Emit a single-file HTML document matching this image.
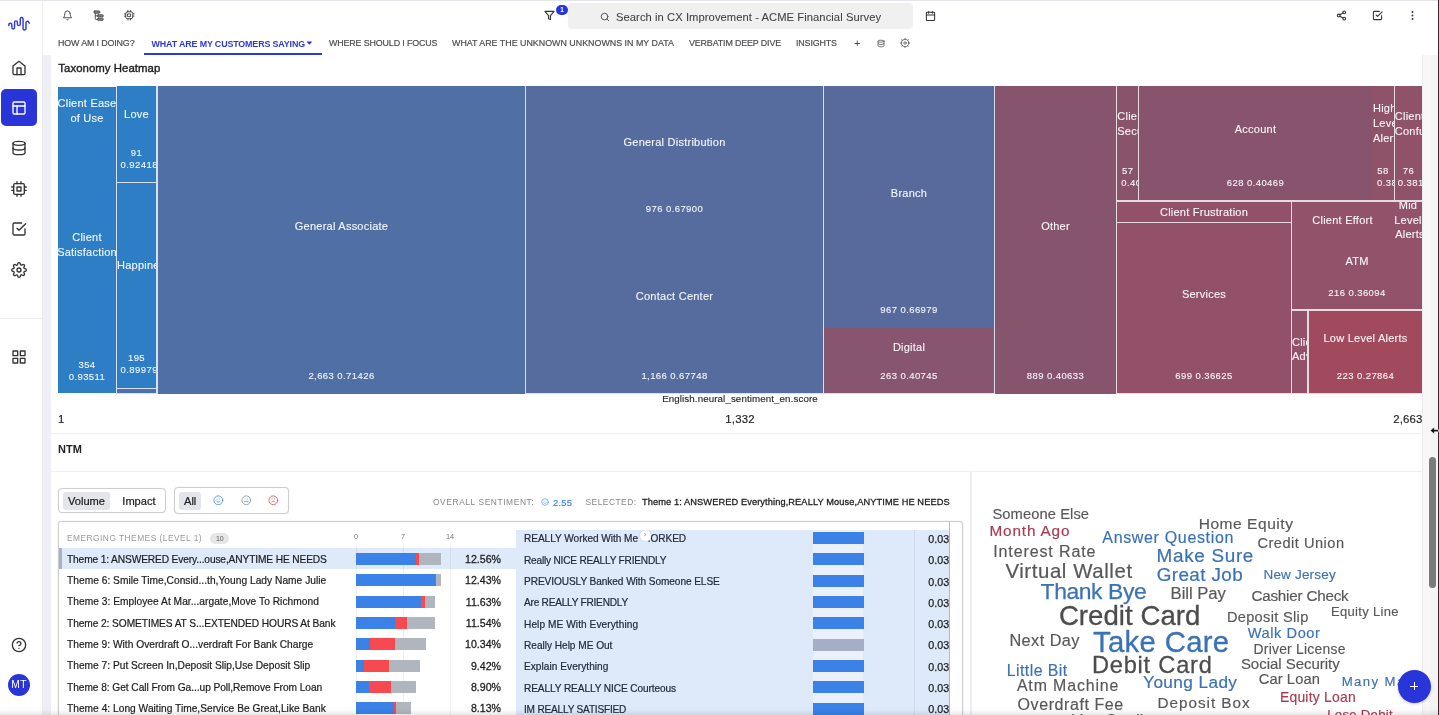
<!DOCTYPE html>
<html lang="en">
<head>
<meta charset="utf-8">
<title>CX Improvement - ACME Financial Survey</title>
<style>
*{box-sizing:border-box;margin:0;padding:0}
html,body{width:1439px;height:715px;overflow:hidden;background:#fff;font-family:"Liberation Sans",sans-serif;color:#222}
#app{position:relative;width:1439px;height:715px;overflow:hidden;background:#fff;will-change:transform}
.abs{position:absolute}
svg.ic{position:absolute;fill:none;stroke:#333;stroke-width:2;stroke-linecap:round;stroke-linejoin:round}
.t{position:absolute;white-space:nowrap;line-height:1}
/* top line */
#topline{left:0;top:0;width:1439px;height:1.3px;background:#e2e6ec}
/* sidebar */
#side{left:0;top:2px;width:43px;height:713px;background:#fff;border-right:1px solid #ececf0}
#navact{left:1px;top:89px;width:36px;height:37px;background:#2a35d9;border-radius:5px}
#sdiv{left:0;top:318px;width:43px;height:1px;background:#ececec}
#avatar{left:8px;top:674px;width:22px;height:22px;border-radius:50%;background:#2a35d9;color:#fff;font-size:10.3px;text-align:center;line-height:22.5px;letter-spacing:.25px}
/* page bg strips */
#lstrip{left:43px;top:54.5px;width:8px;height:661px;background:#eef0f6}
#rstrip{left:1422px;top:54.5px;width:17px;height:661px;background:#f7f7f8;border-left:1px solid #ececee}
#rstrip2{left:1430px;top:54.5px;width:8px;height:661px;background:#f4f4f5}
#thumb{left:1429px;top:457px;width:7px;height:131px;border-radius:4px;background:#7b7b7b}
/* header */
#search{left:568px;top:3px;width:345px;height:26px;background:#f0f0f1;border-radius:4px}
.tab{position:absolute;top:38.6px;font-size:8.9px;letter-spacing:-.13px;color:#4c4c50;-webkit-text-stroke:.18px #4c4c50;white-space:nowrap;line-height:1}
#tabline{left:144px;top:52.8px;width:178px;height:2.2px;background:#2b3bd1}
#badge{left:556px;top:4.5px;width:12px;height:10px;border-radius:5px;background:#2a35d9;color:#fff;font-size:6.5px;font-weight:bold;text-align:center;line-height:10px}
</style>
</head>
<body>
<div id="app">
<div class="abs" id="topline"></div>

<!-- SIDEBAR -->
<div class="abs" id="side"></div>
<svg class="ic" style="left:0;top:0;width:40px;height:40px;stroke:#2f3cd8;stroke-width:1.45" viewBox="0 0 40 40"><path d="M8.8 25.4V24.8a1.525 1.525 0 0 1 3.05 0V27.6a1.35 1.35 0 0 0 2.7 0V22.3a1.425 1.425 0 0 1 2.85 0V24.2a1.425 1.425 0 0 0 2.85 0V18.9a1.4 1.4 0 0 1 2.8 0V28.55a1.475 1.475 0 0 0 2.95 0V22.7a1.5 1.5 0 0 1 2.6 -1l.7 1.5"/></svg>
<svg class="ic" style="left:11px;top:60px;width:16px;height:16px" viewBox="0 0 24 24"><path d="M3 9l9-7 9 7v11a2 2 0 0 1-2 2H5a2 2 0 0 1-2-2z"/><polyline points="9 22 9 12 15 12 15 22"/></svg>
<div class="abs" id="navact"></div>
<svg class="ic" style="left:11px;top:100px;width:16px;height:16px;stroke:#fff" viewBox="0 0 24 24"><rect x="3" y="3" width="18" height="18" rx="2" ry="2"/><line x1="3" y1="9" x2="21" y2="9"/><line x1="9" y1="21" x2="9" y2="9"/></svg>
<svg class="ic" style="left:11px;top:140px;width:16px;height:16px" viewBox="0 0 24 24"><ellipse cx="12" cy="5" rx="9" ry="3"/><path d="M21 12c0 1.66-4 3-9 3s-9-1.34-9-3"/><path d="M3 5v14c0 1.66 4 3 9 3s9-1.34 9-3V5"/></svg>
<svg class="ic" style="left:11px;top:181px;width:16px;height:16px" viewBox="0 0 24 24"><rect x="4" y="4" width="16" height="16" rx="2" ry="2"/><rect x="9" y="9" width="6" height="6"/><line x1="9" y1="1" x2="9" y2="4"/><line x1="15" y1="1" x2="15" y2="4"/><line x1="9" y1="20" x2="9" y2="23"/><line x1="15" y1="20" x2="15" y2="23"/><line x1="20" y1="9" x2="23" y2="9"/><line x1="20" y1="14" x2="23" y2="14"/><line x1="1" y1="9" x2="4" y2="9"/><line x1="1" y1="14" x2="4" y2="14"/></svg>
<svg class="ic" style="left:11px;top:221.4px;width:16px;height:16px" viewBox="0 0 24 24"><polyline points="9 11 12 14 22 4"/><path d="M21 12v7a2 2 0 0 1-2 2H5a2 2 0 0 1-2-2V5a2 2 0 0 1 2-2h11"/></svg>
<svg class="ic" style="left:11px;top:262px;width:16px;height:16px" viewBox="0 0 24 24"><circle cx="12" cy="12" r="3"/><path d="M19.4 15a1.65 1.65 0 0 0 .33 1.82l.06.06a2 2 0 0 1 0 2.83 2 2 0 0 1-2.83 0l-.06-.06a1.65 1.65 0 0 0-1.82-.33 1.65 1.65 0 0 0-1 1.51V21a2 2 0 0 1-2 2 2 2 0 0 1-2-2v-.09A1.65 1.65 0 0 0 9 19.4a1.65 1.65 0 0 0-1.82.33l-.06.06a2 2 0 0 1-2.83 0 2 2 0 0 1 0-2.83l.06-.06a1.65 1.65 0 0 0 .33-1.82 1.65 1.65 0 0 0-1.51-1H3a2 2 0 0 1-2-2 2 2 0 0 1 2-2h.09A1.65 1.65 0 0 0 4.6 9a1.65 1.65 0 0 0-.33-1.82l-.06-.06a2 2 0 0 1 0-2.83 2 2 0 0 1 2.83 0l.06.06a1.65 1.65 0 0 0 1.82.33H9a1.65 1.65 0 0 0 1-1.51V3a2 2 0 0 1 2-2 2 2 0 0 1 2 2v.09a1.65 1.65 0 0 0 1 1.51 1.65 1.65 0 0 0 1.82-.33l.06-.06a2 2 0 0 1 2.83 0 2 2 0 0 1 0 2.83l-.06.06a1.65 1.65 0 0 0-.33 1.82V9a1.65 1.65 0 0 0 1.51 1H21a2 2 0 0 1 2 2 2 2 0 0 1-2 2h-.09a1.65 1.65 0 0 0-1.51 1z"/></svg>
<div class="abs" id="sdiv"></div>
<svg class="ic" style="left:11px;top:349px;width:16px;height:16px" viewBox="0 0 24 24"><rect x="3" y="3" width="7" height="7"/><rect x="14" y="3" width="7" height="7"/><rect x="14" y="14" width="7" height="7"/><rect x="3" y="14" width="7" height="7"/></svg>
<svg class="ic" style="left:11px;top:637px;width:16px;height:16px" viewBox="0 0 24 24"><circle cx="12" cy="12" r="10"/><path d="M9.09 9a3 3 0 0 1 5.83 1c0 2-3 3-3 3"/><line x1="12" y1="17" x2="12.01" y2="17"/></svg>
<div class="abs" id="avatar">MT</div>

<!-- HEADER -->
<svg class="ic" style="left:62px;top:9.9px;width:11px;height:11px;stroke-width:2.1;stroke:#444" viewBox="0 0 24 24"><path d="M18 8A6 6 0 0 0 6 8c0 7-3 9-3 9h18s-3-2-3-9"/><path d="M13.73 21a2 2 0 0 1-3.46 0"/></svg>
<svg class="ic" style="left:93px;top:10.2px;width:11px;height:11px;stroke-width:2;stroke:#4a4a4a" viewBox="0 0 24 24"><rect x="2" y="2" width="13" height="5" rx="2" fill="#8a8a8a"/><rect x="9.5" y="10.5" width="13" height="4.6" rx="2" fill="#8a8a8a"/><rect x="9.5" y="18" width="13" height="4.6" rx="2" fill="#8a8a8a"/><path d="M5 7.5v11.5q0 1.5 1.5 1.5h3M5 12.8h4.5"/></svg>
<svg class="ic" style="left:124.2px;top:10.4px;width:10.5px;height:10.5px;stroke-width:2.1;stroke:#444" viewBox="0 0 24 24"><rect x="4" y="4" width="16" height="16" rx="4" ry="4"/><rect x="9" y="9" width="6" height="6"/><line x1="9" y1="1" x2="9" y2="4"/><line x1="15" y1="1" x2="15" y2="4"/><line x1="9" y1="20" x2="9" y2="23"/><line x1="15" y1="20" x2="15" y2="23"/><line x1="20" y1="9" x2="23" y2="9"/><line x1="20" y1="14" x2="23" y2="14"/><line x1="1" y1="9" x2="4" y2="9"/><line x1="1" y1="14" x2="4" y2="14"/></svg>
<svg class="ic" style="left:544px;top:10px;width:11px;height:11px;stroke-width:2.4" viewBox="0 0 24 24"><polygon points="22 3 2 3 10 12.46 10 19 14 21 14 12.46 22 3"/></svg>
<div class="abs" id="badge">1</div>
<div class="abs" id="search"></div>
<svg class="ic" style="left:600px;top:11.5px;width:10px;height:10px;stroke:#555;stroke-width:2.4" viewBox="0 0 24 24"><circle cx="11" cy="11" r="8"/><line x1="21" y1="21" x2="16.65" y2="16.65"/></svg>
<div class="t" style="left:616px;top:12px;font-size:11.2px;color:#434345;letter-spacing:.07px;-webkit-text-stroke:.08px #434345">Search in CX Improvement - ACME Financial Survey</div>
<svg class="ic" style="left:925px;top:9.7px;width:11px;height:12px;stroke-width:2.3" viewBox="0 0 24 24"><rect x="3" y="4" width="18" height="18" rx="2" ry="2"/><line x1="16" y1="2" x2="16" y2="6"/><line x1="8" y1="2" x2="8" y2="6"/><line x1="3" y1="10" x2="21" y2="10"/></svg>
<svg class="ic" style="left:1336.2px;top:9.7px;width:11px;height:11px;stroke-width:2.3" viewBox="0 0 24 24"><circle cx="18" cy="5" r="3"/><circle cx="6" cy="12" r="3"/><circle cx="18" cy="19" r="3"/><line x1="8.59" y1="13.51" x2="15.42" y2="17.49"/><line x1="15.41" y1="6.51" x2="8.59" y2="10.49"/></svg>
<svg class="ic" style="left:1372px;top:9.7px;width:11px;height:11px;stroke-width:2.3" viewBox="0 0 24 24"><polyline points="9 11 12 14 22 4"/><path d="M21 12v7a2 2 0 0 1-2 2H5a2 2 0 0 1-2-2V5a2 2 0 0 1 2-2h11"/></svg>
<svg class="abs" style="left:1407.3px;top:9.7px;width:11px;height:11px" viewBox="0 0 24 24"><circle cx="12" cy="12" r="2.1" fill="#3a3a3c"/><circle cx="12" cy="4.4" r="2.1" fill="#3a3a3c"/><circle cx="12" cy="19.6" r="2.1" fill="#3a3a3c"/></svg>

<div class="tab" style="left:58px">HOW AM I DOING?</div>
<div class="tab" style="left:151.5px;top:39.7px;color:#2b3bd1;font-weight:bold;letter-spacing:-.13px;-webkit-text-stroke:0">WHAT ARE MY CUSTOMERS SAYING</div>
<svg class="abs" style="left:304px;top:38px;width:12px;height:10px" viewBox="304 38 12 10"><path d="M307.1 41.5h4.6q.5 0 .2.4l-2.2 2.5q-.3.3-.6 0l-2.2-2.5q-.3-.4.2-.4z" fill="#2b3bd1"/></svg>
<div class="abs" id="tabline"></div>
<div class="tab" style="left:329px">WHERE SHOULD I FOCUS</div>
<div class="tab" style="left:452px;letter-spacing:0px">WHAT ARE THE UNKNOWN UNKNOWNS IN MY DATA</div>
<div class="tab" style="left:689px">VERBATIM DEEP DIVE</div>
<div class="tab" style="left:796px">INSIGHTS</div>
<div class="tab" style="left:854px;top:37.5px;font-size:11px;color:#444;-webkit-text-stroke:0">+</div>
<svg class="ic" style="left:877px;top:39px;width:8px;height:9px;stroke:#555;stroke-width:2.4" viewBox="0 0 24 24"><ellipse cx="12" cy="5" rx="9" ry="3"/><path d="M21 12c0 1.66-4 3-9 3s-9-1.34-9-3"/><path d="M3 5v14c0 1.66 4 3 9 3s9-1.34 9-3V5"/></svg>
<svg class="ic" style="left:900px;top:38.2px;width:10px;height:10px;stroke:#5a5a5e;stroke-width:1.9" viewBox="0 0 24 24"><circle cx="12" cy="12" r="3"/><circle cx="12" cy="12" r="9"/><path d="M12 1v3M12 20v3M1 12h3M20 12h3M4.2 4.2l2.1 2.1M17.7 17.7l2.1 2.1M4.2 19.8l2.1-2.1M17.7 6.3l2.1-2.1"/></svg>

<!-- PAGE STRIPS -->
<div class="abs" id="lstrip"></div>
<div class="abs" id="rstrip"></div>
<div class="abs" id="rstrip2"></div>
<div class="abs" id="thumb"></div>

<style>
.cell{position:absolute;overflow:hidden;color:#fff;font-size:11px;text-align:center}
.cell span{position:absolute;left:-20px;right:-20px;text-align:center;white-space:nowrap;line-height:1;letter-spacing:.24px;color:rgba(255,255,255,.93);-webkit-text-stroke:.13px rgba(255,255,255,.9)}
.cell span.v{font-size:9.5px;letter-spacing:.42px;color:rgba(255,255,255,.9)}
.hl{position:absolute;height:1px;background:#f0f0f3}
</style>
<div class="t" style="left:58.3px;top:62.5px;font-size:11.4px;color:#1f1f22;letter-spacing:.05px;-webkit-text-stroke:.4px #1f1f22">Taxonomy Heatmap</div>
<div class="abs" id="tm" style="left:0;top:0;width:1422px;height:400px;overflow:hidden">
<!-- white backing for gaps -->
<div class="abs" style="left:116px;top:86px;width:879px;height:308px;background:#d9dfec"></div><div class="abs" style="left:995px;top:86px;width:427px;height:308px;background:#e6dbe1"></div>
<div class="cell" style="left:58px;top:87px;width:58px;height:306px;background:#2e7ec5"><span style="top:11px">Client Ease</span><span style="top:26px">of Use</span><span style="top:145px">Client</span><span style="top:160px">Satisfaction</span><span class="v" style="top:273px">354</span><span class="v" style="top:285px">0.93511</span></div>
<div class="cell" style="left:117px;top:86px;width:39px;height:96px;background:#2e7ec5"><span style="top:23px">Love</span><span class="v" style="top:62px">91</span><span class="v" style="top:74px;left:3.6px;text-align:left">0.92418</span></div>
<div class="cell" style="left:117px;top:183px;width:39px;height:205px;background:#2e7ec5"><span style="top:77px;left:0;text-align:left">Happiness</span><span class="v" style="top:170px">195</span><span class="v" style="top:182px;left:3.6px;text-align:left">0.89979</span></div>
<div class="cell" style="left:117px;top:389px;width:39px;height:4px;background:#4c72ae"></div>
<div class="cell" style="left:158px;top:86px;width:367px;height:308px;background:#4f6fa5"><span style="top:135px">General Associate</span><span class="v" style="top:285px">2,663 0.71426</span></div>
<div class="cell" style="left:526px;top:86px;width:297px;height:307px;background:#566c9f"><span style="top:51px">General Distribution</span><span class="v" style="top:117.5px">976 0.67900</span><span style="top:205px">Contact Center</span><span class="v" style="top:285px">1,166 0.67748</span></div>
<div class="cell" style="left:824px;top:86px;width:170px;height:242px;background:#586a9c"><span style="top:102px">Branch</span><span class="v" style="top:218.8px">967 0.66979</span></div>
<div class="cell" style="left:824px;top:328px;width:170px;height:65px;background:#87556f"><span style="top:14px">Digital</span><span class="v" style="top:43px">263 0.40745</span></div>
<div class="cell" style="left:995px;top:86px;width:121px;height:308px;background:#87546e"><span style="top:135px">Other</span><span class="v" style="top:285px">889 0.40633</span></div>
<div class="cell" style="left:1117.3px;top:86px;width:20.9px;height:114px;background:#89536c"><span style="top:25px;left:0;text-align:left">Client</span><span style="top:40px;left:0;text-align:left">Security</span><span class="v" style="top:80px">57</span><span class="v" style="top:92px;left:4px;text-align:left">0.40</span></div>
<div class="cell" style="left:1139px;top:86px;width:233px;height:114px;background:#87536d"><span style="top:38px">Account</span><span class="v" style="top:92px">628 0.40469</span></div>
<div class="cell" style="left:1372px;top:86px;width:21.9px;height:114px;background:#8e5269"><span style="top:17px;left:1px;text-align:left">High</span><span style="top:32px;left:1px;text-align:left">Level</span><span style="top:47px;left:1px;text-align:left">Alerts</span><span class="v" style="top:80px">58</span><span class="v" style="top:92px;left:5px;text-align:left">0.38</span></div>
<div class="cell" style="left:1394.8px;top:86px;width:27.2px;height:114px;background:#905268"><span style="top:25px;left:0;text-align:left">Client</span><span style="top:40px;left:0;text-align:left">Confusion</span><span class="v" style="top:80px">76</span><span class="v" style="top:92px;left:3px;text-align:left">0.38107</span></div>
<div class="cell" style="left:1117px;top:201.5px;width:174px;height:20.6px;background:#935169"><span style="top:5.5px">Client Frustration</span></div>
<div class="cell" style="left:1117px;top:223.3px;width:174px;height:169.7px;background:#925169"><span style="top:66px">Services</span><span class="v" style="top:147.7px">699 0.36625</span></div>
<div class="cell" style="left:1292px;top:201.5px;width:130px;height:107.8px;background:#91526a"><span style="top:13.8px;left:0;right:auto;width:101px">Client Effort</span><span style="top:-1.7px;left:101px;right:auto;width:30px">Mid</span><span style="top:13px;left:101px;right:auto;width:30px">Level</span><span style="top:27.8px;left:101px;right:auto;width:34px">Alerts</span><span style="top:54.7px">ATM</span><span class="v" style="top:86.1px">216 0.36094</span></div>
<div class="cell" style="left:1292px;top:311px;width:15px;height:82px;background:#935169"><span style="top:26px;left:0;text-align:left">Client</span><span style="top:40px;left:0;text-align:left">Advocacy</span></div>
<div class="cell" style="left:1309px;top:311px;width:113px;height:82px;background:#a24a5d"><span style="top:22px">Low Level Alerts</span><span class="v" style="top:60px">223 0.27864</span></div>
</div>
<div class="t" style="left:540px;width:400px;text-align:center;top:394px;font-size:9.75px;letter-spacing:.1px;color:#2a2a2c;-webkit-text-stroke:.15px #2a2a2c">English.neural_sentiment_en.score</div>
<div class="t" style="left:58px;top:413.6px;font-size:11.4px;color:#222;-webkit-text-stroke:.15px #222">1</div>
<div class="t" style="left:640px;width:200px;text-align:center;top:413.6px;font-size:11.4px;letter-spacing:.15px;color:#222;-webkit-text-stroke:.15px #222">1,332</div>
<div class="t" style="left:1322.5px;width:100px;text-align:right;top:413.6px;font-size:11.4px;letter-spacing:.15px;color:#222;-webkit-text-stroke:.15px #222">2,663</div>
<div class="hl" style="left:51px;top:433px;width:1371px"></div>
<div class="t" style="left:58px;top:444px;font-size:11px;font-weight:bold;color:#222">NTM</div>
<div class="hl" style="left:51px;top:471px;width:1371px"></div>
<div class="abs" style="left:970.4px;top:471px;width:1.4px;height:244px;background:#eeeef2"></div>

<!--NTM0-->
<style>
.tg{position:absolute;top:488px;height:25px;border:1px solid #cdcdd2;border-radius:4px;background:#fff;box-shadow:0 0 1px rgba(0,0,0,.12)}
.tgs{position:absolute;top:491.5px;height:18px;border-radius:3px;background:#e4e5ea}
.r{position:absolute;left:67px;font-size:10.2px;color:#1d1d1f;white-space:nowrap;line-height:1;letter-spacing:-.03px;-webkit-text-stroke:.2px #1d1d1f}
.p{position:absolute;left:441px;width:60px;text-align:right;font-size:10.6px;color:#1d1d1f;line-height:1;-webkit-text-stroke:.28px #1d1d1f}
.b{position:absolute;height:12px}
.s{position:absolute;left:524px;font-size:10.1px;color:#232a3c;white-space:nowrap;line-height:1;letter-spacing:-.03px;-webkit-text-stroke:.2px #232a3c}
.sv{position:absolute;left:899.4px;width:50px;text-align:right;font-size:10.7px;color:#1d1d1f;line-height:1;letter-spacing:.1px;-webkit-text-stroke:.25px #1d1d1f}
.lbl{position:absolute;font-size:8.4px;color:#86868b;letter-spacing:.6px;white-space:nowrap;line-height:1}
svg.face{position:absolute;fill:none;stroke-width:1.75;stroke-linecap:round;stroke-linejoin:round}
</style>
<div class="tg" style="left:58px;width:108px"></div><div class="tgs" style="left:63px;width:47px"></div>
<div class="t" style="left:68px;top:495.7px;font-size:11.1px;color:#222;-webkit-text-stroke:.22px #222">Volume</div><div class="t" style="left:122.3px;top:495.7px;font-size:11.1px;color:#222;-webkit-text-stroke:.22px #222">Impact</div>
<div class="tg" style="left:174px;width:115px;top:487.3px;height:27px"></div><div class="tgs" style="left:179px;width:22px"></div>
<div class="t" style="left:184px;top:495.7px;font-size:11.1px;color:#222;-webkit-text-stroke:.22px #222">All</div>
<svg class="face" style="left:213.1px;top:494.9px;width:10.6px;height:10.6px;stroke:#3b82e0" viewBox="0 0 24 24"><circle cx="12" cy="12" r="10"/><path d="M8 14s1.5 2 4 2 4-2 4-2"/><line x1="9" y1="9" x2="9.01" y2="9"/><line x1="15" y1="9" x2="15.01" y2="9"/></svg>
<svg class="face" style="left:240.8px;top:494.9px;width:10.6px;height:10.6px;stroke:#7890ba" viewBox="0 0 24 24"><circle cx="12" cy="12" r="10"/><line x1="8" y1="15" x2="16" y2="15"/><line x1="9" y1="9" x2="9.01" y2="9"/><line x1="15" y1="9" x2="15.01" y2="9"/></svg>
<svg class="face" style="left:268.1px;top:494.9px;width:10.6px;height:10.6px;stroke:#e0404c" viewBox="0 0 24 24"><circle cx="12" cy="12" r="10"/><path d="M16 16s-1.5-2-4-2-4 2-4 2"/><line x1="9" y1="9" x2="9.01" y2="9"/><line x1="15" y1="9" x2="15.01" y2="9"/></svg>
<div class="lbl" style="left:433px;top:498px">OVERALL SENTIMENT:</div>
<svg class="face" style="left:541.0px;top:498.0px;width:8.0px;height:8.0px;stroke:#3b82e0" viewBox="0 0 24 24"><circle cx="12" cy="12" r="10"/><path d="M8 14s1.5 2 4 2 4-2 4-2"/><line x1="9" y1="9" x2="9.01" y2="9"/><line x1="15" y1="9" x2="15.01" y2="9"/></svg>
<div class="t" style="left:553px;top:498px;font-size:9.4px;color:#3b82e0;letter-spacing:.25px;-webkit-text-stroke:.15px #3b82e0">2.55</div>
<div class="lbl" style="left:585.5px;top:498px;letter-spacing:.5px">SELECTED:</div>
<div class="t" style="left:642px;top:498px;font-size:9.25px;color:#1d1d1f;letter-spacing:.1px;-webkit-text-stroke:.28px #1d1d1f">Theme 1: ANSWERED Everything,REALLY Mouse,ANYTIME HE NEEDS</div>
<div class="abs" style="left:58px;top:521px;width:905px;height:210px;border:1px solid #cdcdd2;border-radius:3px;background:#fff;box-shadow:0 0 2px rgba(0,0,0,.12)"></div>
<div class="abs" style="left:516px;top:530px;width:433px;height:190px;background:#deeafa"></div>
<div class="abs" style="left:813px;top:530px;width:50px;height:190px;background:#eaf1fc"></div>
<div class="abs" style="left:914px;top:530px;width:1px;height:190px;background:#cfdcf0"></div>
<div class="abs" style="left:949.2px;top:522px;width:1px;height:200px;background:#b9b9bf"></div>
<div class="abs" style="left:59px;top:548px;width:457px;height:21px;background:#deeafa"></div>
<div class="abs" style="left:59px;top:548px;width:3px;height:21px;background:#a9b0c0"></div>
<div class="abs" style="left:356px;top:546px;width:1px;height:180px;background:rgba(120,130,150,.13)"></div>
<div class="abs" style="left:403px;top:546px;width:1px;height:180px;background:rgba(120,130,150,.13)"></div>
<div class="abs" style="left:450px;top:546px;width:1px;height:180px;background:rgba(120,130,150,.13)"></div>
<div class="lbl" style="left:67px;top:534px;color:#9a9a9e;letter-spacing:.47px">EMERGING THEMES (LEVEL 1)</div>
<div class="abs" style="left:210.3px;top:532.8px;width:19px;height:11px;border-radius:6px;background:#e6e6e8;font-size:7px;text-align:center;line-height:11px;color:#555">10</div>
<div class="lbl" style="left:354px;top:533.3px;font-size:7.4px;color:#777;letter-spacing:0">0</div>
<div class="lbl" style="left:401px;top:533.3px;font-size:7.4px;color:#777;letter-spacing:0">7</div>
<div class="lbl" style="left:446px;top:533.3px;font-size:7.4px;color:#777;letter-spacing:0">14</div>
<div class="r" style="top:554.7px;letter-spacing:-0.132px">Theme 1: ANSWERED Every...ouse,ANYTIME HE NEEDS</div>
<div class="b" style="left:356.0px;top:553.0px;width:59.7px;background:#3a82e8"></div>
<div class="b" style="left:415.7px;top:553.0px;width:3.3px;background:#f74a50"></div>
<div class="b" style="left:419.0px;top:553.0px;width:22.3px;background:#b1b5bd"></div>
<div class="p" style="top:554.0px">12.56%</div>
<div class="r" style="top:576.0px;letter-spacing:0.026px">Theme 6: Smile Time,Consid...th,Young Lady Name Julie</div>
<div class="b" style="left:356.0px;top:574.3px;width:79.0px;background:#3a82e8"></div>
<div class="b" style="left:435.0px;top:574.3px;width:1.2px;background:#f74a50"></div>
<div class="b" style="left:436.2px;top:574.3px;width:4.6px;background:#b1b5bd"></div>
<div class="p" style="top:575.3px">12.43%</div>
<div class="r" style="top:597.4px;letter-spacing:0.035px">Theme 3: Employee At Mar...argate,Move To Richmond</div>
<div class="b" style="left:356.0px;top:595.7px;width:65.2px;background:#3a82e8"></div>
<div class="b" style="left:421.2px;top:595.7px;width:3.6px;background:#f74a50"></div>
<div class="b" style="left:424.8px;top:595.7px;width:10.4px;background:#b1b5bd"></div>
<div class="p" style="top:596.7px">11.63%</div>
<div class="r" style="top:618.7px;letter-spacing:-0.085px">Theme 2: SOMETIMES AT S...EXTENDED HOURS At Bank</div>
<div class="b" style="left:356.0px;top:617.0px;width:38.5px;background:#3a82e8"></div>
<div class="b" style="left:394.5px;top:617.0px;width:12.3px;background:#f74a50"></div>
<div class="b" style="left:406.8px;top:617.0px;width:27.8px;background:#b1b5bd"></div>
<div class="p" style="top:618.0px">11.54%</div>
<div class="r" style="top:640.0px;letter-spacing:0.009px">Theme 9: With Overdraft O...verdraft For Bank Charge</div>
<div class="b" style="left:356.0px;top:638.3px;width:14.0px;background:#3a82e8"></div>
<div class="b" style="left:370.0px;top:638.3px;width:25.0px;background:#f74a50"></div>
<div class="b" style="left:395.0px;top:638.3px;width:31.0px;background:#b1b5bd"></div>
<div class="p" style="top:639.3px">10.34%</div>
<div class="r" style="top:661.4px;letter-spacing:0.005px">Theme 7: Put Screen In,Deposit Slip,Use Deposit Slip</div>
<div class="b" style="left:356.0px;top:659.6px;width:8.0px;background:#3a82e8"></div>
<div class="b" style="left:364.0px;top:659.6px;width:25.0px;background:#f74a50"></div>
<div class="b" style="left:389.0px;top:659.6px;width:31.0px;background:#b1b5bd"></div>
<div class="p" style="top:660.6px">9.42%</div>
<div class="r" style="top:682.7px;letter-spacing:-0.059px">Theme 8: Get Call From Ga...up Poll,Remove From Loan</div>
<div class="b" style="left:356.0px;top:681.0px;width:13.0px;background:#3a82e8"></div>
<div class="b" style="left:369.0px;top:681.0px;width:22.0px;background:#f74a50"></div>
<div class="b" style="left:391.0px;top:681.0px;width:25.0px;background:#b1b5bd"></div>
<div class="p" style="top:682.0px">8.90%</div>
<div class="r" style="top:704.0px;letter-spacing:0.019px">Theme 4: Long Waiting Time,Service Be Great,Like Bank</div>
<div class="b" style="left:356.0px;top:702.3px;width:38.0px;background:#3a82e8"></div>
<div class="b" style="left:394.0px;top:702.3px;width:2.0px;background:#f74a50"></div>
<div class="b" style="left:396.0px;top:702.3px;width:15.0px;background:#b1b5bd"></div>
<div class="p" style="top:703.3px">8.13%</div>
<div class="s" style="top:534.4px;letter-spacing:-0.046px">REALLY Worked With Me<span style="display:inline-block;width:9.6px"></span>.ORKED</div>
<div class="b" style="left:813.3px;top:532.0px;width:50.3px;background:#3a82e8"></div>
<div class="sv" style="top:533.8px">0.03</div>
<div class="s" style="top:555.7px;letter-spacing:-0.197px">Really NICE REALLY FRIENDLY</div>
<div class="b" style="left:813.3px;top:553.3px;width:50.3px;background:#3a82e8"></div>
<div class="sv" style="top:555.1px">0.03</div>
<div class="s" style="top:577.1px;letter-spacing:-0.072px">PREVIOUSLY Banked With Someone ELSE</div>
<div class="b" style="left:813.3px;top:574.7px;width:50.3px;background:#3a82e8"></div>
<div class="sv" style="top:576.5px">0.03</div>
<div class="s" style="top:598.4px;letter-spacing:-0.231px">Are REALLY FRIENDLY</div>
<div class="b" style="left:813.3px;top:596.0px;width:50.3px;background:#3a82e8"></div>
<div class="sv" style="top:597.8px">0.03</div>
<div class="s" style="top:619.7px;letter-spacing:0.086px">Help ME With Everything</div>
<div class="b" style="left:813.3px;top:617.3px;width:50.3px;background:#3a82e8"></div>
<div class="sv" style="top:619.1px">0.03</div>
<div class="s" style="top:641.0px;letter-spacing:-0.014px">Really Help ME Out</div>
<div class="b" style="left:813.3px;top:638.6px;width:50.3px;background:#a4aec4"></div>
<div class="sv" style="top:640.4px">0.03</div>
<div class="s" style="top:662.4px;letter-spacing:0.047px">Explain Everything</div>
<div class="b" style="left:813.3px;top:660.0px;width:50.3px;background:#3a82e8"></div>
<div class="sv" style="top:661.8px">0.03</div>
<div class="s" style="top:683.7px;letter-spacing:-0.095px">REALLY REALLY NICE Courteous</div>
<div class="b" style="left:813.3px;top:681.3px;width:50.3px;background:#3a82e8"></div>
<div class="sv" style="top:683.1px">0.03</div>
<div class="s" style="top:705.0px;letter-spacing:-0.201px">IM REALLY SATISFIED</div>
<div class="b" style="left:813.3px;top:702.6px;width:50.3px;background:#3a82e8"></div>
<div class="sv" style="top:704.4px">0.03</div>
<div class="abs" style="left:639.6px;top:530.3px;width:11px;height:11px;border-radius:50%;background:#fff;box-shadow:0 0 1.5px rgba(0,0,0,.18);font-size:8px;line-height:9.5px;text-align:center;color:#8a8a90">&#8250;</div>
<!--NTM1-->
<!--WC0-->
<div class="abs" id="wc" style="left:971px;top:472px;width:451px;height:243px;overflow:hidden">
<div class="t" style="left:21.4px;top:35.3px;font-size:14.7px;letter-spacing:0.10px;color:#58585a;-webkit-text-stroke:0.16px #58585a">Someone Else</div>
<div class="t" style="left:18.5px;top:50.8px;font-size:15.3px;letter-spacing:0.85px;color:#a93a53;-webkit-text-stroke:0.17px #a93a53">Month Ago</div>
<div class="t" style="left:227.7px;top:43.6px;font-size:15.5px;letter-spacing:0.55px;color:#58585a;-webkit-text-stroke:0.17px #58585a">Home Equity</div>
<div class="t" style="left:131.3px;top:57.8px;font-size:16.0px;letter-spacing:0.66px;color:#3b72b4;-webkit-text-stroke:0.18px #3b72b4">Answer Question</div>
<div class="t" style="left:286.4px;top:63.9px;font-size:14.6px;letter-spacing:0.51px;color:#58585a;-webkit-text-stroke:0.16px #58585a">Credit Union</div>
<div class="t" style="left:22.2px;top:72.1px;font-size:16.0px;letter-spacing:0.89px;color:#58585a;-webkit-text-stroke:0.18px #58585a">Interest Rate</div>
<div class="t" style="left:185.6px;top:75.4px;font-size:18.9px;letter-spacing:0.68px;color:#3b72b4;-webkit-text-stroke:0.21px #3b72b4">Make Sure</div>
<div class="t" style="left:34.4px;top:89.0px;font-size:20.4px;letter-spacing:0.59px;color:#58585a;-webkit-text-stroke:0.22px #58585a">Virtual Wallet</div>
<div class="t" style="left:185.7px;top:94.2px;font-size:18.9px;letter-spacing:0.38px;color:#3b72b4;-webkit-text-stroke:0.21px #3b72b4">Great Job</div>
<div class="t" style="left:292.5px;top:95.5px;font-size:13.5px;letter-spacing:0.18px;color:#3b72b4;-webkit-text-stroke:0.15px #3b72b4">New Jersey</div>
<div class="t" style="left:69.6px;top:108.1px;font-size:22.9px;letter-spacing:-0.42px;color:#3b72b4;-webkit-text-stroke:0.25px #3b72b4">Thank Bye</div>
<div class="t" style="left:199.6px;top:114.2px;font-size:16.7px;letter-spacing:-0.04px;color:#58585a;-webkit-text-stroke:0.18px #58585a">Bill Pay</div>
<div class="t" style="left:280.4px;top:115.6px;font-size:15.2px;letter-spacing:-0.19px;color:#58585a;-webkit-text-stroke:0.17px #58585a">Cashier Check</div>
<div class="t" style="left:87.9px;top:129.7px;font-size:27.6px;letter-spacing:0.04px;color:#4c4c4e;-webkit-text-stroke:0.30px #4c4c4e">Credit Card</div>
<div class="t" style="left:255.9px;top:137.8px;font-size:14.6px;letter-spacing:0.32px;color:#58585a;-webkit-text-stroke:0.16px #58585a">Deposit Slip</div>
<div class="t" style="left:360.1px;top:133.4px;font-size:13.0px;letter-spacing:0.30px;color:#58585a;-webkit-text-stroke:0.14px #58585a">Equity Line</div>
<div class="t" style="left:38.4px;top:159.7px;font-size:16.3px;letter-spacing:0.45px;color:#58585a;-webkit-text-stroke:0.18px #58585a">Next Day</div>
<div class="t" style="left:122.0px;top:154.6px;font-size:29.3px;letter-spacing:0.33px;color:#3b72b4;-webkit-text-stroke:0.32px #3b72b4">Take Care</div>
<div class="t" style="left:276.7px;top:154.1px;font-size:14.6px;letter-spacing:0.58px;color:#3b72b4;-webkit-text-stroke:0.16px #3b72b4">Walk Door</div>
<div class="t" style="left:282.5px;top:170.9px;font-size:13.9px;letter-spacing:0.24px;color:#58585a;-webkit-text-stroke:0.15px #58585a">Driver License</div>
<div class="t" style="left:35.8px;top:190.6px;font-size:15.8px;letter-spacing:0.45px;color:#3b72b4;-webkit-text-stroke:0.17px #3b72b4">Little Bit</div>
<div class="t" style="left:120.9px;top:182.3px;font-size:23.6px;letter-spacing:0.80px;color:#4c4c4e;-webkit-text-stroke:0.26px #4c4c4e">Debit Card</div>
<div class="t" style="left:269.9px;top:183.6px;font-size:15.0px;letter-spacing:-0.03px;color:#58585a;-webkit-text-stroke:0.17px #58585a">Social Security</div>
<div class="t" style="left:45.9px;top:205.7px;font-size:15.9px;letter-spacing:0.88px;color:#58585a;-webkit-text-stroke:0.17px #58585a">Atm Machine</div>
<div class="t" style="left:172.1px;top:202.3px;font-size:17.2px;letter-spacing:0.41px;color:#3b72b4;-webkit-text-stroke:0.19px #3b72b4">Young Lady</div>
<div class="t" style="left:287.7px;top:200.1px;font-size:14.7px;letter-spacing:0.11px;color:#58585a;-webkit-text-stroke:0.16px #58585a">Car Loan</div>
<div class="t" style="left:370.7px;top:202.8px;font-size:13.2px;letter-spacing:1.39px;color:#3b72b4;-webkit-text-stroke:0.14px #3b72b4">Many Market</div>
<div class="t" style="left:46.6px;top:224.9px;font-size:16.0px;letter-spacing:0.57px;color:#58585a;-webkit-text-stroke:0.18px #58585a">Overdraft Fee</div>
<div class="t" style="left:186.4px;top:223.2px;font-size:15.3px;letter-spacing:0.98px;color:#58585a;-webkit-text-stroke:0.17px #58585a">Deposit Box</div>
<div class="t" style="left:308.9px;top:219.2px;font-size:13.9px;letter-spacing:0.25px;color:#a93a53;-webkit-text-stroke:0.15px #a93a53">Equity Loan</div>
<div class="t" style="left:356.2px;top:235.7px;font-size:13.2px;letter-spacing:0.26px;color:#a93a53;-webkit-text-stroke:0.14px #a93a53">Lose Debit</div>
<div class="t" style="left:99.9px;top:240.6px;font-size:15.7px;letter-spacing:0.09px;color:#58585a;-webkit-text-stroke:0.17px #58585a">Line Credit</div>
<div class="t" style="left:227.9px;top:240.7px;font-size:15.2px;letter-spacing:0.17px;color:#58585a;-webkit-text-stroke:0.17px #58585a">Money Market</div>
</div>
<div class="abs" style="left:1397.6px;top:669.5px;width:33.4px;height:33.4px;border-radius:50%;background:#2a35d9;box-shadow:0 1px 3px rgba(0,0,0,.22)"></div>
<div class="abs" style="left:1410.1px;top:685.6px;width:8.4px;height:1.2px;background:#fff"></div><div class="abs" style="left:1413.7px;top:682px;width:1.2px;height:8.4px;background:#fff"></div>
<!--WC1-->

<div class="abs" id="redge" style="left:1438px;top:0;width:1px;height:715px;background:#2b2b2d"></div>
<svg class="abs" style="left:1425px;top:422px;width:14px;height:18px" viewBox="1425 422 14 18"><polygon points="1430.2,430.6 1434.3,427.1 1434.3,429.5 1438.5,429.5 1438.5,431.8 1434.3,431.8 1434.3,434.1" fill="#111" stroke="#fff" stroke-width=".6"/></svg>
<div class="abs" id="botfade" style="left:0;top:706px;width:1439px;height:9px;background:linear-gradient(to bottom,rgba(0,0,0,0) 0%,rgba(0,0,0,.02) 50%,rgba(0,0,0,.09) 100%);pointer-events:none"></div>
</div>
</body>
</html>
